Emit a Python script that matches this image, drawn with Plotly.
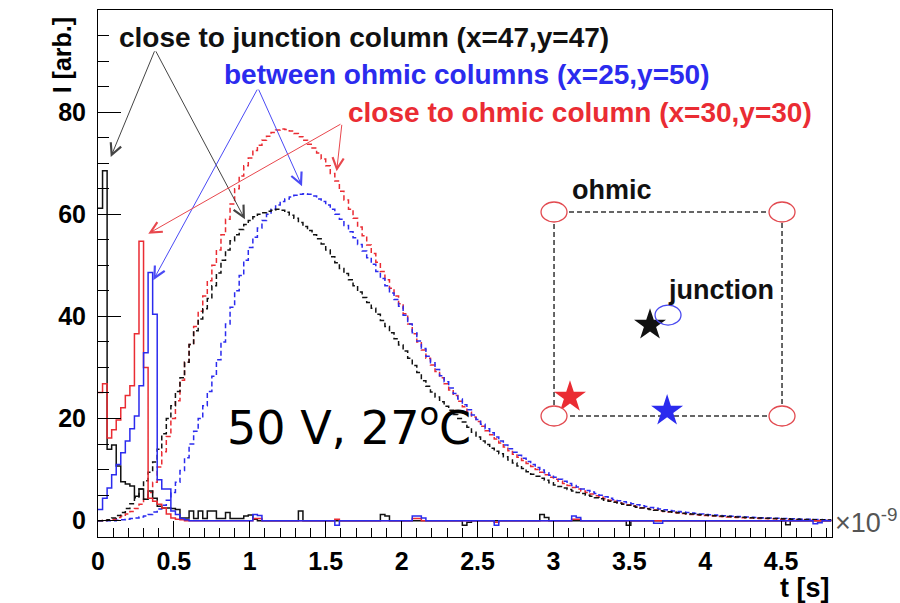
import plotly.graph_objects as go

# ---------------------------------------------------------------------------
# Induced-current transients, 50 V, 27 C.  Histograms with 0.03 ns bins,
# starting at t = 0.  Values are in arbitrary units.
# ---------------------------------------------------------------------------
BIN_WIDTH_NS = 0.03

# fast component (solid lines)
junction_fast = [
    61.2, 68.5, 14.0, 14.8, 10.7, 7.6, 7.2, 6.8, 4.8, 6.2,
    4.2, 5.8, 4.4, 2.8, 2.5, 2.5, 2.4, 2.2, 0.5, 0.5,
    1.9, 0.4, 1.9, 0.4, 1.9, 1.9, 0.4, 0.4, 1.6, 0.4,
    0.4, 0.4, 0.9, 1.1, 0.3, 0.0, 0.0, 0.0, 0.0, 0.0,
    0.0, 0.0, 0.0, 0.0, 1.9, 0.0, 0.0, 0.0, 0.0, 0.0,
    0.0, 0.0, 0.0, 0.0, 0.0, 0.0, 0.0, 0.0, 0.0, 0.0,
    0.0, 0.0, 1.2, 0.9, 0.0, 0.0, 0.0, 0.0, 0.0, 0.0,
    0.0, 0.0, 0.0, 0.0, 0.0, 0.0, 0.0, 0.0, 0.0, 0.0,
    -0.9, -0.3, 0.0, 0.0, 0.0, 0.0, 0.0, 0.0, 0.0, 0.0,
    0.0, 0.0, 0.0, 0.0, 0.0, 0.0, 0.0, 1.2, 0.6, 0.0,
    0.0, 0.0, 0.0, 0.0, 0.0, 0.0, 0.0, 0.0, 0.0, 0.0,
    0.0, 0.0, 0.0, 0.0, 0.0, 0.0, -0.9, 0.0, 0.0, 0.0,
    0.0, 0.0, 0.0, 0.0, 0.0, 0.0, 0.0, 0.0, 0.0, 0.0,
    0.0, 0.0, 0.0, 0.0, 0.0, 0.0, 0.0, 0.0, 0.0, 0.0,
    0.0, 0.0, 0.0, 0.0, 0.0, 0.0, 0.0, 0.0, 0.0, 0.0,
    0.0, -0.8, 0.0, 0.0, 0.0, 0.0, 0.0, 0.0, 0.0, 0.0,
    0.0,
]
between_fast = [
    2.2, 4.4, 6.4, 9.0, 11.0, 13.3, 15.6, 18.0, 20.5, 26.4,
    32.9, 48.6, 40.4, 8.0, 6.2, 6.2, 1.9, 1.2, 0.4, 0.2,
    0.0, 0.0, 0.0, 0.0, 0.0, 0.0, 0.0, 0.0, 0.0, 0.0,
    0.0, 0.0, 0.0, 0.0, 1.2, 1.0, 0.0, 0.0, 0.0, 0.0,
    0.0, 0.0, 0.0, 0.0, 0.0, 0.0, 0.0, 0.0, 0.0, 0.0,
    0.0, 0.0, -0.9, 0.0, 0.0, 0.0, 0.0, 0.0, 0.0, 0.0,
    0.0, 0.0, 0.0, 0.0, 0.0, 0.0, 0.0, 0.0, 0.0, 0.9,
    0.9, 0.5, 0.0, 0.0, 0.0, 0.0, 0.0, 0.0, 0.0, 0.0,
    0.0, 0.0, 0.0, 0.0, 0.0, 0.0, 0.0, -0.9, 0.0, 0.0,
    0.0, 0.0, 0.0, 0.0, 0.0, 0.0, 0.0, 0.0, 0.0, 0.0,
    0.0, 0.0, 0.0, 0.0, 0.9, 0.6, 0.0, 0.0, 0.0, 0.0,
    0.0, 0.0, 0.0, 0.0, 0.0, 0.0, 0.0, 0.0, 0.0, 0.0,
    0.0, 0.0, -0.5, -0.5, 0.0, 0.0, 0.0, 0.0, 0.0, 0.0,
    0.0, 0.0, 0.0, 0.0, 0.0, 0.0, 0.0, 0.0, 0.0, 0.0,
    0.0, 0.0, 0.0, 0.0, 0.0, 0.0, 0.0, 0.0, 0.0, 0.0,
    0.0, 0.0, 0.0, 0.0, 0.0, 0.0, 0.0, -0.6, -0.4, 0.0,
    0.0,
]
ohmic_fast = [
    25.1, 26.8, 16.2, 17.8, 19.7, 22.1, 24.5, 26.4, 36.6, 54.7,
    30.0, 4.4, 3.8, 3.2, 2.5, 1.3, 0.5, 0.3, 0.2, 0.0,
    0.0, 0.0, 0.0, 0.0, 0.0, 0.0, 0.0, 0.0, 0.0, 0.0,
    0.0, 0.0, 0.0, 0.0, 0.4, 0.4, 0.0, 0.0, 0.0, 0.0,
    0.0, 0.0, 0.0, 0.0, 0.0, 0.0, 0.0, 0.0, 0.0, 0.0,
    0.0, 0.0, 0.3, 0.0, 0.0, 0.0, 0.0, 0.0, 0.0, 0.0,
    0.0, 0.0, 0.0, 0.0, 0.0, 0.0, 0.0, 0.0, 0.0, 0.4,
    0.4, 0.0, 0.0, 0.0, 0.0, 0.0, 0.0, 0.0, 0.0, 0.0,
    0.0, 0.0, 0.0, 0.0, 0.0, 0.0, 0.0, -0.3, 0.0, 0.0,
    0.0, 0.0, 0.0, 0.0, 0.0, 0.0, 0.0, 0.0, 0.0, 0.0,
    0.0, 0.0, 0.0, 0.0, 0.3, 0.3, 0.0, 0.0, 0.0, 0.0,
    0.0, 0.0, 0.0, 0.0, 0.0, 0.0, 0.0, 0.0, 0.0, 0.0,
    0.0, 0.0, 0.0, 0.0, 0.0, 0.0, 0.0, 0.0, 0.0, 0.0,
    0.0, 0.0, 0.0, 0.0, 0.0, 0.0, 0.0, 0.0, 0.0, 0.0,
    0.0, 0.0, 0.0, 0.0, 0.0, 0.0, 0.0, 0.0, 0.0, 0.0,
    0.0, 0.0, 0.0, 0.0, 0.0, 0.0, 0.0, 0.0, 0.0, 0.0,
    0.0,
]

# slow component (dashed lines)
junction_slow = [
    0.0, 0.05, 0.2, 0.5, 1.0, 1.6, 2.4, 3.3, 4.5, 6.2,
    7.8, 9.5, 11.5, 14.0, 17.0, 20.0, 22.5, 25.3, 28.0, 31.0,
    34.5, 37.2, 39.5, 41.5, 43.5, 46.0, 48.5, 51.0, 53.0, 54.8,
    56.0, 57.0, 58.0, 58.8, 59.5, 60.0, 60.3, 60.6, 60.8, 61.0,
    60.8, 60.4, 59.8, 59.2, 58.4, 57.6, 56.8, 56.0, 55.2, 54.2,
    53.0, 51.7, 50.5, 49.4, 48.4, 47.2, 46.0, 44.8, 43.7, 42.7,
    41.6, 40.4, 39.2, 38.0, 36.8, 35.6, 34.4, 33.2, 31.8, 30.4,
    29.0, 27.4, 26.3, 25.2, 24.2, 23.3, 22.4, 21.6, 20.8, 20.0,
    19.3, 18.3, 17.3, 16.4, 15.6, 14.9, 14.2, 13.6, 13.1, 12.5,
    11.9, 11.3, 10.7, 10.2, 9.6, 9.1, 8.7, 8.3, 7.9, 7.4,
    7.0, 6.7, 6.4, 6.1, 5.8, 5.5, 5.3, 5.0, 4.8, 4.5,
    4.3, 4.0, 3.8, 3.6, 3.4, 3.2, 3.0, 2.8, 2.65, 2.5,
    2.35, 2.2, 2.05, 1.95, 1.85, 1.75, 1.65, 1.55, 1.45, 1.35,
    1.3, 1.2, 1.15, 1.1, 1.0, 0.95, 0.9, 0.85, 0.8, 0.75,
    0.7, 0.65, 0.6, 0.55, 0.5, 0.5, 0.45, 0.45, 0.4, 0.4,
    0.35, 0.35, 0.3, 0.3, 0.3, 0.25, 0.25, 0.2, 0.2, 0.2,
    0.15,
]
between_slow = [
    0.0, 0.0, 0.0, 0.0, 0.1, 0.2, 0.3, 0.4, 0.5, 0.7,
    0.9, 1.2, 1.7, 2.3, 3.0, 4.0, 5.5, 7.5, 9.8, 12.3,
    15.0, 17.5, 20.0, 22.5, 25.3, 28.3, 31.5, 35.0, 38.5, 41.8,
    45.0, 48.0, 51.0, 53.5, 55.5, 57.3, 58.8, 60.0, 61.0, 61.8,
    62.5, 63.0, 63.4, 63.7, 63.9, 64.0, 63.9, 63.6, 63.0, 62.5,
    61.8, 61.0, 60.0, 59.0, 57.8, 56.6, 55.4, 54.1, 52.8, 51.5,
    50.2, 48.8, 47.4, 46.0, 44.6, 43.3, 42.0, 40.2, 38.5, 36.8,
    35.2, 33.7, 32.2, 30.9, 29.6, 28.4, 27.2, 26.0, 24.9, 23.8,
    22.7, 21.7, 20.7, 19.8, 18.9, 18.0, 17.2, 16.4, 15.6, 14.8,
    14.1, 13.4, 12.8, 12.2, 11.6, 11.0, 10.4, 9.9, 9.4, 8.9,
    8.5, 8.1, 7.7, 7.3, 6.9, 6.6, 6.2, 5.9, 5.6, 5.3,
    5.0, 4.7, 4.4, 4.1, 3.9, 3.7, 3.5, 3.3, 3.1, 2.9,
    2.75, 2.6, 2.45, 2.3, 2.15, 2.0, 1.9, 1.8, 1.7, 1.6,
    1.5, 1.4, 1.3, 1.2, 1.15, 1.1, 1.0, 0.95, 0.9, 0.85,
    0.8, 0.75, 0.7, 0.65, 0.6, 0.55, 0.5, 0.5, 0.45, 0.45,
    0.4, 0.4, 0.35, 0.35, 0.3, 0.3, 0.3, 0.25, 0.25, 0.2,
    0.2,
]
ohmic_slow = [
    0.0, 0.05, 0.1, 0.3, 0.6, 0.9, 1.3, 1.8, 2.4, 3.2,
    4.2, 5.5, 7.5, 10.5, 13.5, 16.5, 20.0, 23.5, 27.5, 31.0,
    34.5, 38.0, 41.0, 44.0, 47.0, 50.0, 53.0, 56.0, 59.0, 62.0,
    65.0, 67.5, 69.5, 71.0, 72.5, 73.5, 74.5, 75.3, 76.0, 76.5,
    76.7, 76.6, 76.3, 75.8, 75.2, 74.5, 73.7, 73.0, 72.0, 70.8,
    69.5, 68.0, 66.5, 64.5, 62.8, 61.0, 59.2, 57.5, 55.8, 54.0,
    52.3, 50.6, 48.8, 47.2, 45.5, 44.0, 42.5, 40.5, 38.5, 36.6,
    35.0, 33.4, 31.8, 30.5, 29.2, 28.0, 26.8, 25.6, 24.5, 23.4,
    22.3, 21.3, 20.3, 19.4, 18.5, 17.6, 16.8, 16.0, 15.2, 14.4,
    13.7, 13.0, 12.4, 11.8, 11.2, 10.6, 10.0, 9.5, 9.0, 8.5,
    8.1, 7.7, 7.3, 6.9, 6.5, 6.2, 5.8, 5.5, 5.2, 4.9,
    4.6, 4.3, 4.0, 3.8, 3.5, 3.3, 3.1, 2.9, 2.7, 2.55,
    2.4, 2.25, 2.1, 1.95, 1.8, 1.7, 1.6, 1.5, 1.4, 1.3,
    1.2, 1.15, 1.05, 1.0, 0.95, 0.9, 0.8, 0.75, 0.7, 0.65,
    0.6, 0.55, 0.5, 0.5, 0.45, 0.4, 0.4, 0.35, 0.35, 0.3,
    0.3, 0.25, 0.25, 0.2, 0.2, 0.2, 0.15, 0.15, 0.15, 0.1,
    0.1,
]

# Sensor-cell sketch: ohmic columns at the corners, junction column in the
# centre, and the three injection points (cell coordinates 0..100).
ohmic_cols_x = [0, 100, 100, 0]
ohmic_cols_y = [0, 0, 100, 100]
junction_col_x = [50]
junction_col_y = [49.5]
inject_x = [42.1, 49.6, 7.0]
inject_y = [44.6, 2.5, 9.3]

RED = "#ea2c33"
BLUE = "#2b2bee"
BLACK = "#111111"
inject_colors = [BLACK, BLUE, RED]

FONT = "Liberation Sans, Arial, Helvetica, sans-serif"

fig = go.Figure()


def hist_trace(vals, color, dashed):
    edges = [round(i * BIN_WIDTH_NS, 4) for i in range(len(vals) + 1)]
    ys = list(vals) + [vals[-1]]
    return go.Scatter(
        x=edges, y=ys, mode="lines", line_shape="hv",
        line=dict(color=color, width=1.5, dash="5px,3px" if dashed else "solid"),
        hoverinfo="skip", showlegend=False,
    )


fig.add_trace(hist_trace(ohmic_slow, RED, True))
fig.add_trace(hist_trace(between_slow, BLUE, True))
fig.add_trace(hist_trace(junction_slow, BLACK, True))
fig.add_trace(hist_trace(junction_fast, BLACK, False))
fig.add_trace(hist_trace(ohmic_fast, RED, False))
fig.add_trace(hist_trace(between_fast, BLUE, False))

# ---- cell sketch on its own axes -----------------------------------------
fig.add_trace(go.Scatter(
    x=ohmic_cols_x + ohmic_cols_x[:1], y=ohmic_cols_y + ohmic_cols_y[:1],
    mode="lines", line=dict(color="#333333", width=1.5, dash="5px,3px"),
    xaxis="x2", yaxis="y2", hoverinfo="skip", showlegend=False,
))
RX, RY = 5.7, 4.9
for cx, cy in zip(ohmic_cols_x, ohmic_cols_y):
    fig.add_shape(type="circle", xref="x2", yref="y2",
                  x0=cx - RX, x1=cx + RX, y0=cy - RY, y1=cy + RY,
                  line=dict(color="#e24a50", width=1.3), fillcolor="white")
for cx, cy in zip(junction_col_x, junction_col_y):
    fig.add_shape(type="circle", xref="x2", yref="y2",
                  x0=cx - RX, x1=cx + RX, y0=cy - RY, y1=cy + RY,
                  line=dict(color="#4a4af0", width=1.3), fillcolor="rgba(0,0,0,0)")
fig.add_trace(go.Scatter(
    x=inject_x, y=inject_y, mode="markers",
    marker=dict(symbol="star", size=24, color=inject_colors, line=dict(width=0)),
    xaxis="x2", yaxis="y2", cliponaxis=False, hoverinfo="skip", showlegend=False,
))
fig.add_annotation(x=7.0, y=110.8, xref="x2", yref="y2", text="ohmic",
                   showarrow=False, xanchor="left", yanchor="middle",
                   font=dict(family=FONT, size=27, color=BLACK, weight="bold"))
fig.add_annotation(x=49.1, y=61.8, xref="x2", yref="y2", text="junction",
                   showarrow=False, xanchor="left", yanchor="middle",
                   font=dict(family=FONT, size=27, color=BLACK, weight="bold"))

# ---- labels with pointer arrows ------------------------------------------
labels = [
    ("close to junction column (x=47,y=47)", BLACK, 0.026, 0.947),
    ("between ohmic columns (x=25,y=50)", BLUE, 0.169, 0.877),
    ("close to ohmic column (x=30,y=30)", RED, 0.338, 0.806),
]
for txt, col, px, py in labels:
    fig.add_annotation(x=px, y=py, xref="paper", yref="paper", text=txt,
                       showarrow=False, xanchor="left", yanchor="middle",
                       font=dict(family=FONT, size=28, color=col, weight="bold"))

# (tail t, tail I) -> (tip t, tip I) in axis units
arrows = [
    ("#444444", 0.376, 92.2, 0.084, 71.2),
    ("#444444", 0.376, 92.2, 0.968, 59.0),
    ("#4a4af5", 1.054, 84.7, 0.364, 47.1),
    ("#4a4af5", 1.054, 84.7, 1.344, 65.5),
    ("#e8474d", 1.607, 77.8, 0.331, 56.2),
    ("#e8474d", 1.607, 77.8, 1.572, 68.4),
]
for col, t0, i0, t1, i1 in arrows:
    fig.add_annotation(x=t1, y=i1, ax=t0, ay=i0, xref="x", yref="y",
                       axref="x", ayref="y", text="", showarrow=True,
                       arrowhead=5, arrowsize=2.2, arrowwidth=1,
                       arrowcolor=col, standoff=0, startstandoff=0)

fig.add_annotation(x=0.173, y=0.2125, xref="paper", yref="paper",
                   text="50 V, 27<sup>o</sup>C", showarrow=False,
                   xanchor="left", yanchor="middle",
                   font=dict(family="DejaVu Sans, Verdana, sans-serif", size=46, color="black"))

# axis titles in ROOT placement
fig.add_annotation(x=-0.049, y=0.99, xref="paper", yref="paper", text="I [arb.]",
                   textangle=-90, showarrow=False, xanchor="center", yanchor="top",
                   font=dict(family=FONT, size=25, color="black", weight="bold"))
fig.add_annotation(x=1.0, y=-0.097, xref="paper", yref="paper", text="t [s]",
                   showarrow=False, xanchor="right", yanchor="middle",
                   font=dict(family=FONT, size=27, color="black", weight="bold"))
fig.add_annotation(x=1.002, y=0.03, xref="paper", yref="paper",
                   text="\u00d710<sup>-9</sup>", showarrow=False,
                   xanchor="left", yanchor="middle",
                   font=dict(family=FONT, size=27, color="#555555"))

tickfont = dict(family=FONT, size=25, color="black", weight="bold")
fig.update_layout(
    width=900, height=603,
    margin=dict(l=98, r=68, t=10, b=66),
    paper_bgcolor="white", plot_bgcolor="white",
    showlegend=False,
    xaxis=dict(
        range=[0, 4.835], dtick=0.5, tick0=0, ticks="inside", ticklen=16,
        tickwidth=1, tickcolor="black", showgrid=False, zeroline=False,
        showline=True, linecolor="black", linewidth=1, mirror=True,
        tickfont=tickfont, ticklabelstandoff=2,
        minor=dict(dtick=0.1, tick0=0, ticks="inside", ticklen=9,
                   tickcolor="black", tickwidth=1, showgrid=False),
    ),
    yaxis=dict(
        range=[-3.2, 100], dtick=20, tick0=0, ticks="inside", ticklen=23,
        tickwidth=1, tickcolor="black", showgrid=False, zeroline=False,
        showline=True, linecolor="black", linewidth=1, mirror=True,
        tickfont=tickfont, ticklabelstandoff=6,
        minor=dict(dtick=5, tick0=0, ticks="inside", ticklen=11,
                   tickcolor="black", tickwidth=1, showgrid=False),
    ),
    # sketch axes: 2.28 px per unit in x, 2.04 px per unit in y
    xaxis2=dict(domain=[0.5747, 0.9785], range=[-15, 115], anchor="y2",
                visible=False, fixedrange=True),
    yaxis2=dict(domain=[0.1715, 0.7135], range=[-15, 125], anchor="x2",
                visible=False, fixedrange=True),
)

fig.write_html("out.html")
